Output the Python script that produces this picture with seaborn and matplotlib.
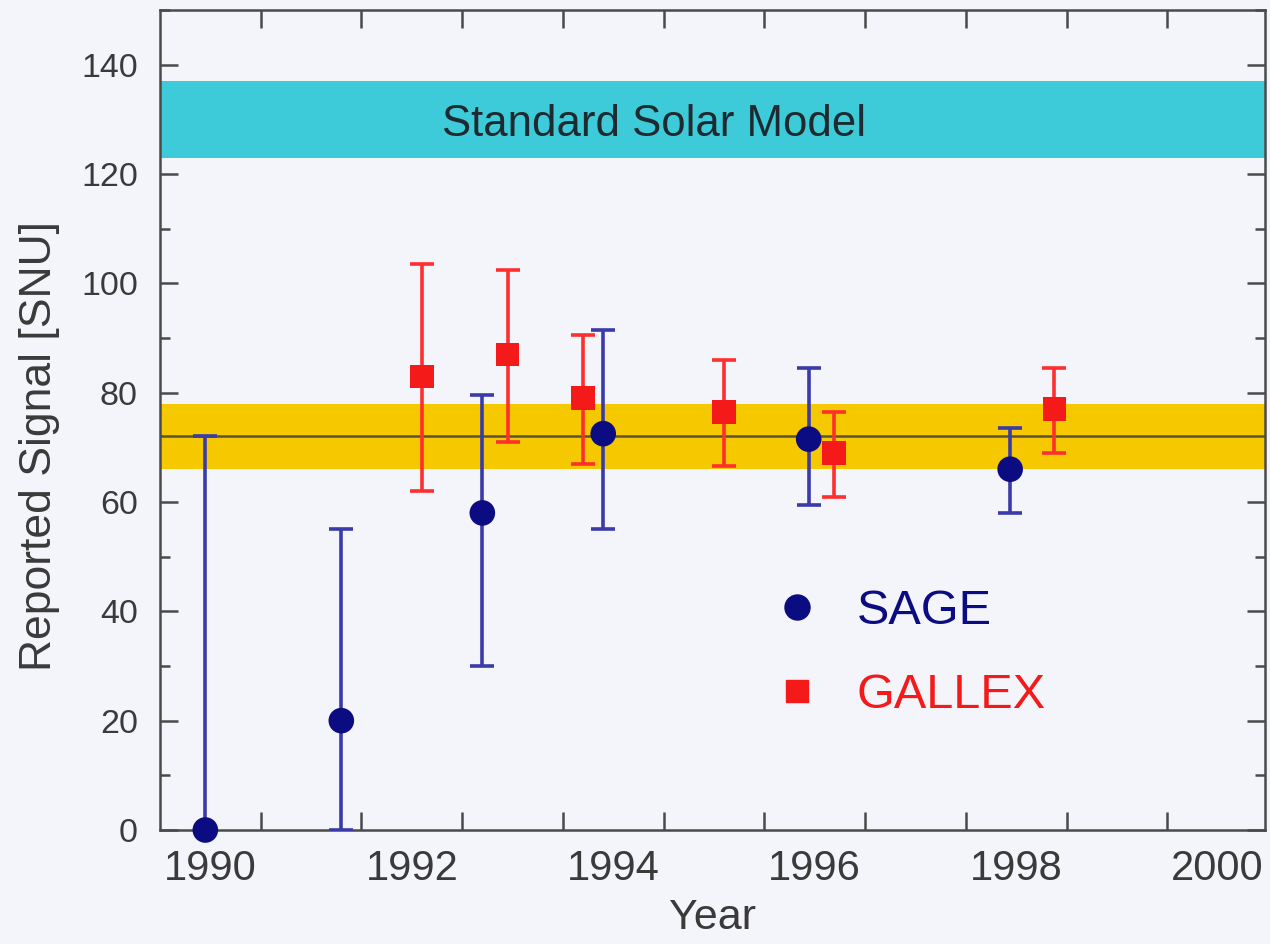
import numpy as np
import pandas as pd
import matplotlib
matplotlib.use("Agg")
import matplotlib.pyplot as plt
import seaborn as sns
from matplotlib.ticker import MultipleLocator, FixedLocator
from matplotlib.lines import Line2D

# ---------------- data ----------------
sage_year = [1989.95, 1991.30, 1992.70, 1993.90, 1995.94, 1997.94]
sage_signal = [0, 20, 58, 72.5, 71.5, 66]
sage_err_low = [0, 20, 28, 17.5, 12, 8]
sage_err_high = [72, 35, 21.5, 19, 13, 7.5]

gallex_year = [1992.10, 1992.95, 1993.70, 1995.10, 1996.19, 1998.38]
gallex_signal = [83, 87, 79, 76.5, 69, 77]
gallex_err_low = [21, 16, 12, 10, 8, 8]
gallex_err_high = [20.5, 15.5, 11.5, 9.5, 7.5, 7.5]

ssm_center, ssm_low, ssm_high = 129, 123, 137
combined_center, combined_low, combined_high = 72, 66, 78

year_labels = [1990, 1992, 1994, 1996, 1998, 2000]

# ---------------- style ----------------
sns.set_theme(style="ticks")
plt.rcParams["font.family"] = ["Liberation Sans", "DejaVu Sans"]

bg = "#f4f4fb"
navy = "#0b0b82"
blue_err = "#3a3aa8"
red = "#f51a1a"
red_err = "#ff2f2f"
cyan = "#3ecbd9"
gold = "#f5c800"
spine_c = "#4a4a4a"
text_c = "#3a3a3a"

fig = plt.figure(figsize=(12.7, 9.44), dpi=100, facecolor=bg)
ax = fig.add_axes([160 / 1270, 1 - 830 / 944, 1105 / 1270, 820 / 944])
ax.set_facecolor(bg)

# bands
ax.axhspan(ssm_low, ssm_high, color=cyan, lw=0, zorder=1)
ax.axhspan(combined_low, combined_high, color=gold, lw=0, zorder=1)
ax.axhline(combined_center, color="#5a5230", lw=1.8, zorder=2)
ax.text(1994.4, ssm_center, "Standard Solar Model", ha="center", va="center",
        fontsize=31.5, color="#1e2a30", zorder=3)

# error bars
ax.errorbar(sage_year, sage_signal, yerr=[sage_err_low, sage_err_high], fmt="none",
            ecolor=blue_err, elinewidth=2.6, capsize=8.5, capthick=2.6, zorder=4)
ax.errorbar(gallex_year, gallex_signal, yerr=[gallex_err_low, gallex_err_high], fmt="none",
            ecolor=red_err, elinewidth=2.6, capsize=8.5, capthick=2.6, zorder=4)

sage_df = pd.DataFrame({"Year": sage_year, "Signal": sage_signal})
gallex_df = pd.DataFrame({"Year": gallex_year, "Signal": gallex_signal})
sns.scatterplot(data=sage_df, x="Year", y="Signal", ax=ax, marker="o", s=340,
                color=navy, edgecolor="none", zorder=5, clip_on=False)
sns.scatterplot(data=gallex_df, x="Year", y="Signal", ax=ax, marker="s", s=285,
                color=red, edgecolor="none", zorder=5)

# axes
ax.set_xlim(1989.5, 2000.47)
ax.set_ylim(0, 150)
ax.xaxis.set_major_locator(FixedLocator(year_labels))
ax.xaxis.set_minor_locator(FixedLocator([y + 0.5 for y in range(1990, 2000)]))
ax.set_xticklabels([str(y) for y in year_labels])
ax.yaxis.set_major_locator(MultipleLocator(20))
ax.yaxis.set_minor_locator(MultipleLocator(10))
ax.set_yticks(np.arange(0, 141, 20))

ax.tick_params(axis="x", which="major", length=0, pad=14, labelsize=30, labelcolor=text_c)
ax.tick_params(axis="x", which="minor", length=13, width=1.8, direction="in",
               top=True, bottom=True, color=spine_c)
ax.tick_params(axis="y", which="major", length=13, width=1.8, direction="in",
               left=True, right=True, pad=16, labelsize=24.5, labelcolor=text_c, color=spine_c)
ax.tick_params(axis="y", which="minor", length=7, width=1.8, direction="in",
               left=True, right=True, color=spine_c)

for sp in ax.spines.values():
    sp.set_visible(True)
    sp.set_color(spine_c)
    sp.set_linewidth(1.8)

ax.set_xlabel("Year", fontsize=31, color=text_c)
ax.xaxis.set_label_coords((712 - 160) / 1105, (830 - 918) / 820)
ax.set_ylabel("Reported Signal [SNU]", fontsize=32, color=text_c)
ax.yaxis.set_label_coords((40 - 160) / 1105, (830 - 446) / 820)
ax.xaxis.label.set_va("center")
ax.yaxis.label.set_va("center")

# legend
handles = [Line2D([], [], marker="o", ls="none", color=navy, markersize=18),
           Line2D([], [], marker="s", ls="none", color=red, markersize=16)]
leg = ax.legend(handles, ["SAGE", "GALLEX"], loc="upper left",
                bbox_to_anchor=(0.5545, 0.294), frameon=False, fontsize=35,
                handlelength=1.0, handletextpad=0.73, labelspacing=0.80, borderpad=0,
                borderaxespad=0)
for t, c in zip(leg.get_texts(), [navy, red]):
    t.set_color(c)

fig.savefig("out.png", dpi=100, facecolor=bg)
